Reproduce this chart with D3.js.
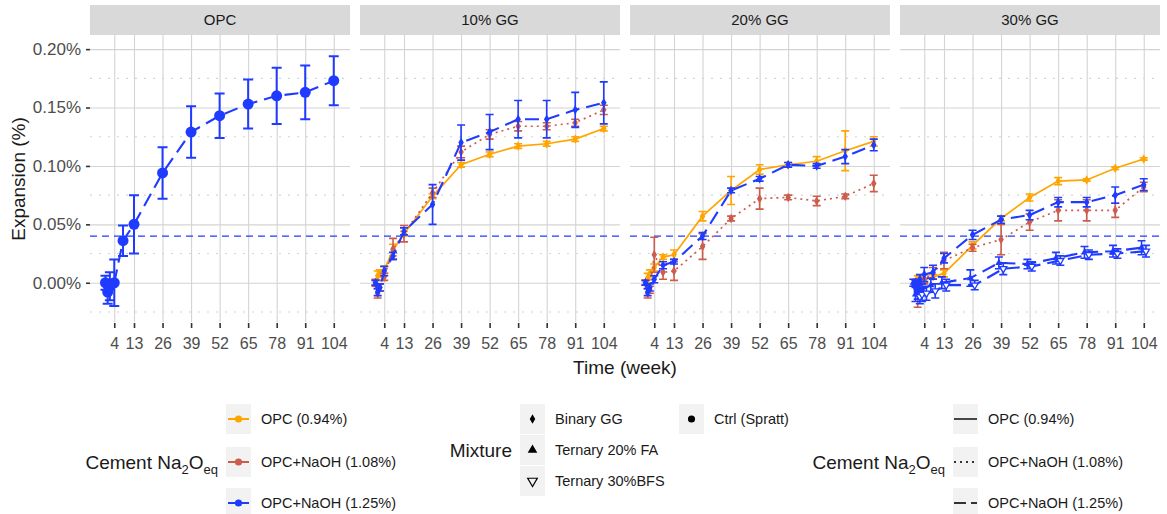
<!DOCTYPE html>
<html>
<head>
<meta charset="utf-8">
<script src="https://cdn.jsdelivr.net/npm/d3@7"></script>
<style>
  body { margin: 0; background: #fff; }
  svg text { font-family: "Liberation Sans", Arial, Helvetica, sans-serif; }
</style>
</head>
<body>
<svg id="chart" width="1167" height="514"></svg>
<script>
// ---- data ---------------------------------------------------------------
const weeks = [0, 1, 2, 4, 8, 13, 26, 39, 52, 65, 78, 91, 104];
const panelNames = ["OPC", "10% GG", "20% GG", "30% GG"];
const xTickWeeks = [4, 13, 26, 39, 52, 65, 78, 91, 104];
const yTickValues = [0, 0.05, 0.10, 0.15, 0.20];
const yMinorValues = [-0.025, 0.025, 0.075, 0.125, 0.175];
const expansionLimit = 0.04;
const cementLevels = ["OPC (0.94%)", "OPC+NaOH (1.08%)", "OPC+NaOH (1.25%)"];
const mixtureLevels = ["Binary GG", "Ternary 20% FA", "Ternary 30%BFS", "Ctrl (Spratt)"];

// mean expansion (%) and error half-width per series
const opcCtrl125     = [0.000, -0.008, -0.003, 0.000, 0.036, 0.050, 0.094, 0.129, 0.143, 0.153, 0.160, 0.163, 0.173];
const opcCtrl125Err  = [0.006, 0.010, 0.012, 0.020, 0.013, 0.025, 0.022, 0.022, 0.019, 0.021, 0.024, 0.023, 0.021];

const gg10Bin094     = [0.000, 0.006, 0.008, 0.011, 0.028, 0.042, 0.074, 0.101, 0.110, 0.117, 0.119, 0.123, 0.132];
const gg10Bin094Err  = [0.002, 0.004, 0.003, 0.003, 0.005, 0.002, 0.002, 0.002, 0.002, 0.002, 0.002, 0.002, 0.002];
const gg10Bin108     = [0.000, -0.009, -0.004, 0.005, 0.029, 0.042, 0.077, 0.112, 0.127, 0.134, 0.134, 0.137, 0.148];
const gg10Bin108Err  = [0.003, 0.004, 0.003, 0.003, 0.009, 0.007, 0.004, 0.005, 0.004, 0.004, 0.003, 0.003, 0.004];
const gg10Bin125     = [0.000, -0.008, -0.004, 0.010, 0.023, 0.044, 0.067, 0.120, 0.129, 0.140, 0.140, 0.148, 0.154];
const gg10Bin125Err  = [0.002, 0.003, 0.003, 0.004, 0.003, 0.003, 0.017, 0.015, 0.015, 0.016, 0.016, 0.015, 0.018];

const gg20Bin094     = [0.000, 0.004, 0.008, 0.013, 0.022, 0.024, 0.057, 0.079, 0.097, 0.101, 0.104, 0.113, 0.121];
const gg20Bin094Err  = [0.002, 0.004, 0.003, 0.003, 0.002, 0.004, 0.004, 0.012, 0.004, 0.002, 0.004, 0.017, 0.004];
const gg20Bin108     = [0.000, -0.009, -0.006, 0.024, 0.009, 0.010, 0.031, 0.055, 0.072, 0.073, 0.070, 0.074, 0.085];
const gg20Bin108Err  = [0.002, 0.004, 0.003, 0.015, 0.006, 0.008, 0.011, 0.002, 0.009, 0.002, 0.004, 0.002, 0.007];
const gg20Bin125     = [0.000, -0.008, -0.004, 0.003, 0.015, 0.018, 0.040, 0.079, 0.089, 0.101, 0.100, 0.108, 0.118];
const gg20Bin125Err  = [0.002, 0.003, 0.003, 0.003, 0.003, 0.002, 0.003, 0.002, 0.002, 0.002, 0.002, 0.006, 0.005];

const gg30Bin094     = [0.000, 0.004, 0.003, 0.002, 0.005, 0.008, 0.032, 0.055, 0.073, 0.087, 0.088, 0.098, 0.106];
const gg30Bin094Err  = [0.002, 0.002, 0.002, 0.002, 0.002, 0.003, 0.003, 0.002, 0.003, 0.003, 0.001, 0.001, 0.001];
const gg30Bin108     = [0.000, -0.009, -0.004, 0.003, 0.008, 0.019, 0.030, 0.037, 0.052, 0.062, 0.062, 0.062, 0.082];
const gg30Bin108Err  = [0.003, 0.012, 0.005, 0.004, 0.005, 0.007, 0.003, 0.013, 0.007, 0.009, 0.009, 0.006, 0.004];
const gg30Bin125     = [0.000, -0.004, 0.003, 0.007, 0.009, 0.021, 0.041, 0.054, 0.058, 0.069, 0.069, 0.075, 0.084];
const gg30Bin125Err  = [0.002, 0.004, 0.004, 0.006, 0.006, 0.004, 0.004, 0.003, 0.004, 0.004, 0.004, 0.007, 0.005];
const gg30Fa125      = [0.000, -0.010, -0.008, -0.006, -0.002, 0.000, 0.004, 0.017, 0.016, 0.021, 0.026, 0.027, 0.030];
const gg30Fa125Err   = [0.003, 0.006, 0.006, 0.005, 0.006, 0.005, 0.007, 0.005, 0.004, 0.005, 0.005, 0.005, 0.006];
const gg30Bfs125     = [-0.002, -0.012, -0.010, -0.009, -0.007, -0.002, -0.002, 0.012, 0.014, 0.019, 0.024, 0.025, 0.027];
const gg30Bfs125Err  = [0.003, 0.006, 0.006, 0.006, 0.006, 0.005, 0.004, 0.005, 0.004, 0.004, 0.004, 0.004, 0.005];

// series table: panel, cement level index, mixture index, values
const series = [
  { panel: 0, cement: 2, mixture: 3, mean: opcCtrl125, err: opcCtrl125Err },
  { panel: 1, cement: 0, mixture: 0, mean: gg10Bin094, err: gg10Bin094Err },
  { panel: 1, cement: 1, mixture: 0, mean: gg10Bin108, err: gg10Bin108Err },
  { panel: 1, cement: 2, mixture: 0, mean: gg10Bin125, err: gg10Bin125Err },
  { panel: 2, cement: 0, mixture: 0, mean: gg20Bin094, err: gg20Bin094Err },
  { panel: 2, cement: 1, mixture: 0, mean: gg20Bin108, err: gg20Bin108Err },
  { panel: 2, cement: 2, mixture: 0, mean: gg20Bin125, err: gg20Bin125Err },
  { panel: 3, cement: 0, mixture: 0, mean: gg30Bin094, err: gg30Bin094Err },
  { panel: 3, cement: 1, mixture: 0, mean: gg30Bin108, err: gg30Bin108Err },
  { panel: 3, cement: 2, mixture: 1, mean: gg30Fa125,  err: gg30Fa125Err },
  { panel: 3, cement: 2, mixture: 2, mean: gg30Bfs125, err: gg30Bfs125Err },
  { panel: 3, cement: 2, mixture: 0, mean: gg30Bin125, err: gg30Bin125Err }
];

// ---- styling ------------------------------------------------------------
const cementColor = ["#FFA500", "#CD5C4C", "#1F3BFF"];
const cementDash  = [null, "2,4", "14,7"];
const cementWidth = [1.7, 1.7, 2.1];
const mixtureDodge = [0, -1.0, 1.0, 0];

const svg = d3.select("#chart");
const panelW = 260, panelGap = 10, panelX0 = 90;
const stripTop = 5, stripH = 30;
const plotTop = stripTop + stripH, plotBottom = 322;

const x = d3.scaleLinear().domain([-7.05, 111.4]).range([0, panelW]);
const y = d3.scaleLinear().domain([-0.0336, 0.2121]).range([plotBottom, plotTop]);

function symbolPath(mix, big, inLegend) {
  if (mix === 0) return d3.symbol(d3.symbolDiamond, 26)();
  if (mix === 1 || mix === 2) return d3.symbol(d3.symbolTriangle, inLegend ? 40 : 22)();
  return d3.symbol(d3.symbolCircle, big ? 95 : 40)();
}

const pctFormat = d => d3.format(".2f")(d) + "%";

panelNames.forEach((name, p) => {
  const g = svg.append("g").attr("transform", `translate(${panelX0 + p * (panelW + panelGap)},0)`);

  // strip
  g.append("rect").attr("x", 0).attr("y", stripTop).attr("width", panelW).attr("height", stripH)
    .attr("fill", "#d9d9d9");
  g.append("text").attr("x", panelW / 2).attr("y", stripTop + stripH / 2).attr("dy", "0.35em")
    .attr("text-anchor", "middle").attr("font-size", 15).attr("fill", "#1a1a1a").text(name);

  // minor horizontal grid (dotted)
  g.append("g").selectAll("line").data(yMinorValues).join("line")
    .attr("x1", 0).attr("x2", panelW).attr("y1", d => y(d)).attr("y2", d => y(d))
    .attr("stroke", "#d4d4d4").attr("stroke-width", 1.1).attr("stroke-dasharray", "2,7");

  // major grid through the axis generators
  const gy = g.append("g").call(d3.axisLeft(y).tickValues(yTickValues).tickSize(-panelW).tickFormat(""));
  gy.select(".domain").remove();
  gy.selectAll("line").attr("stroke", "#d4d4d4").attr("stroke-width", 1.1);
  const gx = g.append("g").attr("transform", `translate(0,${plotBottom})`)
    .call(d3.axisBottom(x).tickValues(xTickWeeks).tickSize(-(plotBottom - plotTop)).tickFormat(""));
  gx.select(".domain").remove();
  gx.selectAll("line").attr("stroke", "#d4d4d4").attr("stroke-width", 1.1);

  // x axis ticks and labels
  const ax = g.append("g").attr("transform", `translate(0,${plotBottom})`)
    .call(d3.axisBottom(x).tickValues(xTickWeeks).tickSize(5).tickPadding(11));
  ax.select(".domain").remove();
  ax.selectAll("line").attr("stroke", "#333").attr("stroke-width", 1.6)
    .attr("transform", "translate(0,1)");
  ax.selectAll("text").attr("font-size", 16).attr("fill", "#4d4d4d")
    .attr("font-family", "Liberation Sans, Arial, sans-serif");

  if (p === 0) {
    const ay = g.append("g").call(d3.axisLeft(y).tickValues(yTickValues).tickSize(4).tickPadding(5)
      .tickFormat(pctFormat));
    ay.select(".domain").remove();
    ay.selectAll("line").attr("stroke", "#333").attr("stroke-width", 1.6);
    ay.selectAll("text").attr("font-size", 17).attr("fill", "#4d4d4d")
      .attr("font-family", "Liberation Sans, Arial, sans-serif");
  }

  // limit line
  g.append("line").attr("x1", 0).attr("x2", panelW)
    .attr("y1", y(expansionLimit)).attr("y2", y(expansionLimit))
    .attr("stroke", "#1F3BFF").attr("stroke-width", 1.3).attr("stroke-dasharray", "7,5");

  // data
  const ps = series.filter(s => s.panel === p);
  ps.forEach(s => {
    const col = cementColor[s.cement];
    const big = s.mixture === 3;
    const pts = weeks.map((w, i) => ({ w: w + mixtureDodge[s.mixture], v: s.mean[i], e: s.err[i] }));
    const cap = big ? 5 : 4;

    const eb = g.append("g").attr("stroke", col).attr("stroke-width", big ? 2 : 1.6);
    eb.selectAll("path").data(pts).join("path")
      .attr("d", d => {
        const cx = x(d.w), y1 = y(d.v + d.e), y2 = y(d.v - d.e);
        return `M${cx - cap},${y1}H${cx + cap}M${cx},${y1}V${y2}M${cx - cap},${y2}H${cx + cap}`;
      })
      .attr("fill", "none");

    g.append("path").datum(pts)
      .attr("d", d3.line().x(d => x(d.w)).y(d => y(d.v)))
      .attr("fill", "none").attr("stroke", col).attr("stroke-width", cementWidth[s.cement])
      .attr("stroke-dasharray", cementDash[s.cement]);

    g.append("g").selectAll("path").data(pts).join("path")
      .attr("d", symbolPath(s.mixture, big, false))
      .attr("transform", d => `translate(${x(d.w)},${y(d.v)})` + (s.mixture === 2 ? " rotate(180)" : ""))
      .attr("fill", s.mixture === 2 ? "#fff" : col)
      .attr("stroke", s.mixture === 2 ? col : "none")
      .attr("stroke-width", 1.3);
  });
});

// axis titles
svg.append("text").attr("x", 625).attr("y", 367).attr("dy", "0.35em").attr("text-anchor", "middle")
  .attr("font-size", 19).attr("fill", "#1a1a1a").text("Time (week)");
svg.append("text").attr("transform", "translate(18,179) rotate(-90)").attr("dy", "0.35em")
  .attr("text-anchor", "middle").attr("font-size", 19).attr("fill", "#1a1a1a").text("Expansion (%)");

// ---- legends ------------------------------------------------------------
function cementTitle(xEnd, yMid) {
  const t = svg.append("text").attr("x", xEnd).attr("y", yMid).attr("dy", "0.35em")
    .attr("text-anchor", "end").attr("font-size", 19).attr("fill", "#1a1a1a");
  t.append("tspan").text("Cement Na");
  t.append("tspan").attr("font-size", 13).attr("dy", 5).text("2");
  t.append("tspan").attr("dy", -5).text("O");
  t.append("tspan").attr("font-size", 13).attr("dy", 5).text("eq");
}
const keyW = 25, keyH = 30;
const cementRows = [419, 462, 503];

// colour legend
cementTitle(218, 462);
cementLevels.forEach((lab, i) => {
  const kx = 226, cy = cementRows[i];
  svg.append("rect").attr("x", kx).attr("y", cy - keyH / 2).attr("width", keyW).attr("height", keyH).attr("fill", "#f2f2f2");
  svg.append("line").attr("x1", kx + 2).attr("x2", kx + keyW - 2).attr("y1", cy).attr("y2", cy)
    .attr("stroke", cementColor[i]).attr("stroke-width", 2);
  svg.append("circle").attr("cx", kx + keyW / 2).attr("cy", cy).attr("r", 3.6).attr("fill", cementColor[i]);
  svg.append("text").attr("x", kx + keyW + 10).attr("y", cy).attr("dy", "0.35em")
    .attr("font-size", 14.5).attr("fill", "#1a1a1a").text(lab);
});

// shape legend
const mixRows = [419, 450, 481];
svg.append("text").attr("x", 512).attr("y", 450).attr("dy", "0.35em").attr("text-anchor", "end")
  .attr("font-size", 19).attr("fill", "#1a1a1a").text("Mixture");
mixtureLevels.forEach((lab, i) => {
  const kx = i < 3 ? 520 : 679, cy = i < 3 ? mixRows[i] : mixRows[0];
  svg.append("rect").attr("x", kx).attr("y", cy - keyH / 2).attr("width", keyW).attr("height", keyH).attr("fill", "#f2f2f2");
  svg.append("path").attr("d", symbolPath(i, false, true))
    .attr("transform", `translate(${kx + keyW / 2},${cy})` + (i === 2 ? " rotate(180)" : ""))
    .attr("fill", i === 2 ? "none" : "#000").attr("stroke", i === 2 ? "#000" : "none").attr("stroke-width", 1.2);
  svg.append("text").attr("x", kx + keyW + 10).attr("y", cy).attr("dy", "0.35em")
    .attr("font-size", 14.5).attr("fill", "#1a1a1a").text(lab);
});

// linetype legend
cementTitle(945, 462);
cementLevels.forEach((lab, i) => {
  const kx = 953, cy = cementRows[i];
  svg.append("rect").attr("x", kx).attr("y", cy - keyH / 2).attr("width", keyW).attr("height", keyH).attr("fill", "#f2f2f2");
  svg.append("line").attr("x1", kx + 1).attr("x2", kx + keyW - 1).attr("y1", cy).attr("y2", cy)
    .attr("stroke", "#333").attr("stroke-width", 1.8).attr("stroke-dasharray", i === 2 ? "12,5" : cementDash[i]);
  svg.append("text").attr("x", kx + keyW + 10).attr("y", cy).attr("dy", "0.35em")
    .attr("font-size", 14.5).attr("fill", "#1a1a1a").text(lab);
});
</script>
</body>
</html>
